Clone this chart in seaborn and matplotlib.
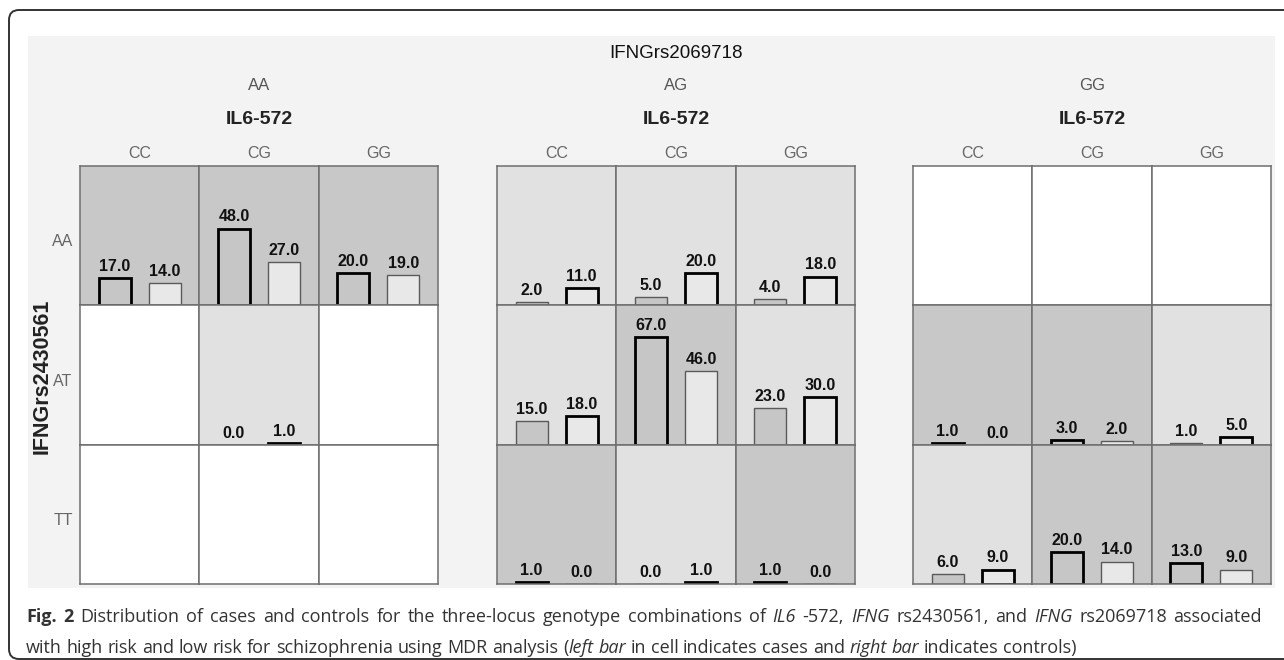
"""
MDR three-locus plot: IL6 -572 x IFNG rs2430561 x IFNG rs2069718
left bar = cases, right bar = controls
"""

import re
import numpy as np
import pandas as pd
import seaborn as sns
import matplotlib.pyplot as plt
from matplotlib.patches import Rectangle, FancyBboxPatch

#############################
# data
outer_geno = ["AA", "AG", "GG"]      # IFNGrs2069718
row_geno = ["AA", "AT", "TT"]        # IFNGrs2430561
col_geno = ["CC", "CG", "GG"]        # IL6-572

nan = np.nan
# cases [row][col] for each IFNGrs2069718 genotype
cases_AA = [[17, 48, 20], [nan, 0, nan], [nan, nan, nan]]
cases_AG = [[2, 5, 4], [15, 67, 23], [1, 0, 1]]
cases_GG = [[nan, nan, nan], [1, 3, 1], [6, 20, 13]]
# controls
ctrl_AA = [[14, 27, 19], [nan, 1, nan], [nan, nan, nan]]
ctrl_AG = [[11, 20, 18], [18, 46, 30], [0, 1, 0]]
ctrl_GG = [[nan, nan, nan], [0, 2, 5], [9, 14, 9]]
# risk class of each cell: H = high, L = low, "" = no data
risk_AA = [["H", "H", "H"], ["", "L", ""], ["", "", ""]]
risk_AG = [["L", "L", "L"], ["L", "H", "L"], ["H", "L", "H"]]
risk_GG = [["", "", ""], ["H", "H", "L"], ["L", "H", "H"]]

cases = [cases_AA, cases_AG, cases_GG]
ctrl = [ctrl_AA, ctrl_AG, ctrl_GG]
risk = [risk_AA, risk_AG, risk_GG]
#############################

W, H = 1284, 660
cell_col = {"H": "#c8c8c8", "L": "#e1e1e1", "": "#ffffff"}
bar_col = ["#c6c6c6", "#e8e8e8"]
grid_x0 = [80, 497, 913]
cell_w = 358 / 3
row_y0 = 166
cell_h = 418 / 3

sns.set_style("white")
plt.rcParams['font.family'] = ['Liberation Sans', 'DejaVu Sans']

fig = plt.figure(figsize=(W / 100, H / 100), dpi=100)

# background axes in pixel coordinates
bg = fig.add_axes([0, 0, 1, 1], zorder=-5)
bg.set_xlim(0, W)
bg.set_ylim(H, 0)
bg.axis("off")
bg.add_patch(FancyBboxPatch((9, 10), 1330, 649,
                            boxstyle="round,pad=0,rounding_size=10",
                            fc="white", ec="#333333", lw=1.4, clip_on=False))
bg.add_patch(Rectangle((28, 36), 1247, 552, fc="#f3f3f3", ec="none"))


def px_axes(x0, y0, w, h):
    return fig.add_axes([x0 / W, 1 - (y0 + h) / H, w / W, h / H])


for g in range(3):
    gx = grid_x0[g]
    gc = gx + 1.5 * cell_w
    if g == 1:
        bg.text(gc, 53, "IFNGrs2069718", ha="center", va="center",
                fontsize=13.5, color="#111111")
    bg.text(gc, 86, outer_geno[g], ha="center", va="center",
            fontsize=12, color="#555555")
    bg.text(gc, 120, "IL6-572", ha="center", va="center",
            fontsize=14, fontweight="bold", color="#222222")
    for c in range(3):
        bg.text(gx + (c + 0.5) * cell_w, 154, col_geno[c], ha="center",
                va="center", fontsize=11.5, color="#666666")

    for r in range(3):
        for c in range(3):
            ax = px_axes(gx + c * cell_w, row_y0 + r * cell_h, cell_w, cell_h)
            ax.set_facecolor(cell_col[risk[g][r][c]])
            n1, n2 = cases[g][r][c], ctrl[g][r][c]
            if not np.isnan(n1):
                df = pd.DataFrame({"grp": ["cases", "controls"], "n": [n1, n2]})
                sns.barplot(data=df, x="grp", y="n", hue="grp",
                            palette=bar_col, saturation=1, width=0.64,
                            legend=False, ax=ax)
                bars = sorted(ax.patches, key=lambda p: p.get_x())
                vals = [n1, n2]
                for k, p in enumerate(bars):
                    if vals[k] > vals[1 - k]:
                        p.set_edgecolor("black")
                        p.set_linewidth(2.0)
                    else:
                        p.set_edgecolor("#5a5a5a")
                        p.set_linewidth(1.0)
                    ax.annotate("%.1f" % vals[k],
                                (p.get_x() + p.get_width() / 2, p.get_height()),
                                xytext=(0, 3), textcoords="offset points",
                                ha="center", va="bottom", fontsize=11.5,
                                fontweight="bold", color="#111111")
            ax.set_xlim(-0.69, 1.69)
            ax.set_ylim(0, 87.1)
            ax.set_xticks([])
            ax.set_yticks([])
            ax.set_xlabel("")
            ax.set_ylabel("")
            for s in ax.spines.values():
                s.set_visible(True)
                s.set_color("#6e6e6e")
                s.set_linewidth(1.1)

# row labels
for r in range(3):
    bg.text(63, row_y0 + (r + 0.5) * cell_h + 6, row_geno[r], ha="center",
            va="center", fontsize=11.5, color="#666666")
bg.text(42, 376, "IFNGrs2430561", rotation=90, ha="center", va="center",
        fontsize=15.5, fontweight="bold", color="#222222")


# caption with mixed styles, word by word (first line justified)
def caption_line(x, y, parts, right=None):
    words = []
    pending = False
    for s, style in parts:
        for i, m in enumerate(re.finditer(r"(\s*)(\S+)", s)):
            sp = bool(m.group(1)) or (i == 0 and pending)
            words.append((m.group(2), style, sp))
        pending = s.endswith(" ")
    space = 0.26 * 13 * 100 / 72
    texts = []
    t = None
    for w, style, sp in words:
        kw = dict(fontsize=13, family=["Open Sans", "DejaVu Sans"],
                  color="#333333",
                  fontweight="bold" if style == "b" else "normal",
                  fontstyle="italic" if style == "i" else "normal")
        if t is None:
            t = bg.text(x, y, w, ha="left", va="baseline", **kw)
        else:
            t = bg.annotate(w, xy=(1, 0), xycoords=t, ha="left", va="bottom",
                            xytext=(space if sp else 0, 0),
                            textcoords="offset pixels", **kw)
            texts.append((t, sp))
    if right is not None:
        fig.canvas.draw()
        r = fig.canvas.get_renderer()
        x_end = t.get_window_extent(r).x1
        n_sp = sum(1 for _, sp in texts if sp)
        extra = (right - x_end) / n_sp
        for tt, sp in texts:
            if sp:
                tt.xyann = (space + extra, 0)


caption_line(26, 622, [
    ("Fig. 2", "b"),
    (" Distribution of cases and controls for the three-locus genotype "
     "combinations of ", "n"),
    ("IL6", "i"), (" -572, ", "n"), ("IFNG", "i"), (" rs2430561, and ", "n"),
    ("IFNG", "i"), (" rs2069718 associated", "n")], right=1262)
caption_line(26, 653, [
    ("with high risk and low risk for schizophrenia using MDR analysis (", "n"),
    ("left bar", "i"), (" in cell indicates cases and ", "n"),
    ("right bar", "i"), (" indicates controls)", "n")])

plt.savefig("out.png", dpi=100)
